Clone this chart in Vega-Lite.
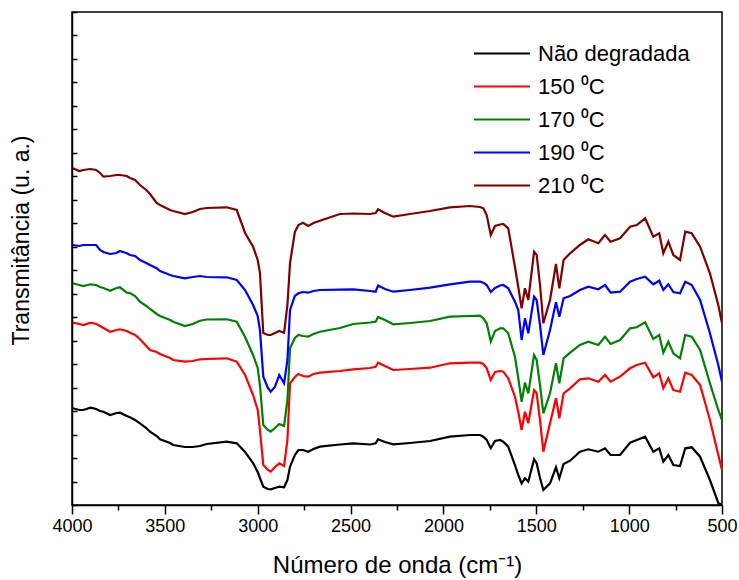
{
  "$schema": "https://vega.github.io/schema/vega-lite/v6.json",
  "width": 650,
  "height": 493,
  "autosize": {"type": "none"},
  "padding": {"left": 72, "top": 12, "right": 17, "bottom": 75},
  "background": "white",
  "config": {
    "view": {"stroke": "black", "strokeWidth": 1.5},
    "font": "Liberation Sans",
    "axis": {"grid": false, "domainColor": "black", "domainWidth": 1.5, "tickColor": "black", "tickWidth": 1.5, "labelColor": "black", "titleColor": "black", "titleFontWeight": "normal", "labelFont": "Liberation Sans", "titleFont": "Liberation Sans"}
  },
  "data": {"values": [
    {"x":3996,"Não degradada":96.7,"150 ⁰C":182.3,"170 ⁰C":221.7,"190 ⁰C":260,"210 ⁰C":336.7},
    {"x":3960,"Não degradada":95,"150 ⁰C":181,"170 ⁰C":220,"190 ⁰C":259,"210 ⁰C":334},
    {"x":3939,"Não degradada":95,"150 ⁰C":180,"170 ⁰C":219,"190 ⁰C":260,"210 ⁰C":335},
    {"x":3900,"Não degradada":97.3,"150 ⁰C":182.3,"170 ⁰C":220.7,"190 ⁰C":260,"210 ⁰C":336},
    {"x":3870,"Não degradada":96,"150 ⁰C":181,"170 ⁰C":220,"190 ⁰C":260,"210 ⁰C":335},
    {"x":3849,"Não degradada":94,"150 ⁰C":179,"170 ⁰C":218,"190 ⁰C":255,"210 ⁰C":332},
    {"x":3831,"Não degradada":93.3,"150 ⁰C":177,"170 ⁰C":217,"190 ⁰C":253,"210 ⁰C":328.3},
    {"x":3795,"Não degradada":90,"150 ⁰C":173.3,"170 ⁰C":214.3,"190 ⁰C":251,"210 ⁰C":329},
    {"x":3760,"Não degradada":92,"150 ⁰C":175,"170 ⁰C":217,"190 ⁰C":252,"210 ⁰C":330},
    {"x":3742,"Não degradada":92.3,"150 ⁰C":175.7,"170 ⁰C":217.7,"190 ⁰C":254,"210 ⁰C":330},
    {"x":3705,"Não degradada":89,"150 ⁰C":174,"170 ⁰C":212.3,"190 ⁰C":251.7,"210 ⁰C":329},
    {"x":3688,"Não degradada":87.7,"150 ⁰C":172.3,"170 ⁰C":212,"190 ⁰C":250,"210 ⁰C":327},
    {"x":3660,"Não degradada":85,"150 ⁰C":170,"170 ⁰C":209,"190 ⁰C":249,"210 ⁰C":325},
    {"x":3634,"Não degradada":81.7,"150 ⁰C":165.7,"170 ⁰C":203.3,"190 ⁰C":245,"210 ⁰C":320},
    {"x":3600,"Não degradada":77,"150 ⁰C":159,"170 ⁰C":199,"190 ⁰C":242,"210 ⁰C":315},
    {"x":3580,"Não degradada":73.3,"150 ⁰C":155,"170 ⁰C":196,"190 ⁰C":240,"210 ⁰C":311},
    {"x":3544,"Não degradada":69,"150 ⁰C":153,"170 ⁰C":191,"190 ⁰C":236.7,"210 ⁰C":302},
    {"x":3526,"Não degradada":65.7,"150 ⁰C":151,"170 ⁰C":189,"190 ⁰C":234,"210 ⁰C":300},
    {"x":3472,"Não degradada":62,"150 ⁰C":147,"170 ⁰C":185,"190 ⁰C":230,"210 ⁰C":295},
    {"x":3455,"Não degradada":60,"150 ⁰C":145,"170 ⁰C":183.3,"190 ⁰C":229,"210 ⁰C":294},
    {"x":3392,"Não degradada":58,"150 ⁰C":143.3,"170 ⁰C":179,"190 ⁰C":226.7,"210 ⁰C":291},
    {"x":3350,"Não degradada":58,"150 ⁰C":144,"170 ⁰C":181,"190 ⁰C":228,"210 ⁰C":293},
    {"x":3311,"Não degradada":59,"150 ⁰C":145.7,"170 ⁰C":184.3,"190 ⁰C":229,"210 ⁰C":296},
    {"x":3275,"Não degradada":61,"150 ⁰C":146,"170 ⁰C":185.5,"190 ⁰C":228,"210 ⁰C":297},
    {"x":3167,"Não degradada":63.3,"150 ⁰C":146.7,"170 ⁰C":185.7,"190 ⁰C":227.7,"210 ⁰C":297.7},
    {"x":3113,"Não degradada":61.7,"150 ⁰C":143.3,"170 ⁰C":183.3,"190 ⁰C":225,"210 ⁰C":295},
    {"x":3068,"Não degradada":53,"150 ⁰C":130,"170 ⁰C":168,"190 ⁰C":215,"210 ⁰C":272},
    {"x":3025,"Não degradada":42,"150 ⁰C":110,"170 ⁰C":150,"190 ⁰C":200,"210 ⁰C":258.3},
    {"x":3000,"Não degradada":33,"150 ⁰C":95,"170 ⁰C":137,"190 ⁰C":189,"210 ⁰C":245},
    {"x":2988,"Não degradada":27,"150 ⁰C":75,"170 ⁰C":120,"190 ⁰C":175,"210 ⁰C":232},
    {"x":2970,"Não degradada":18.3,"150 ⁰C":40,"170 ⁰C":80,"190 ⁰C":128.3,"210 ⁰C":172},
    {"x":2945,"Não degradada":16,"150 ⁰C":35,"170 ⁰C":75,"190 ⁰C":117,"210 ⁰C":170},
    {"x":2930,"Não degradada":15.7,"150 ⁰C":33.3,"170 ⁰C":73.3,"190 ⁰C":113.3,"210 ⁰C":170},
    {"x":2907,"Não degradada":17,"150 ⁰C":38,"170 ⁰C":77,"190 ⁰C":118.3,"210 ⁰C":172},
    {"x":2884,"Não degradada":18.3,"150 ⁰C":41.7,"170 ⁰C":81,"190 ⁰C":130,"210 ⁰C":174},
    {"x":2858,"Não degradada":17.7,"150 ⁰C":39,"170 ⁰C":79,"190 ⁰C":121.7,"210 ⁰C":172.3},
    {"x":2840,"Não degradada":25,"150 ⁰C":65,"170 ⁰C":105,"190 ⁰C":145,"210 ⁰C":200},
    {"x":2826,"Não degradada":38.3,"150 ⁰C":121.7,"170 ⁰C":156.7,"190 ⁰C":195,"210 ⁰C":242},
    {"x":2800,"Não degradada":50,"150 ⁰C":128,"170 ⁰C":167,"190 ⁰C":209,"210 ⁰C":273},
    {"x":2781,"Não degradada":55,"150 ⁰C":131,"170 ⁰C":170,"190 ⁰C":211.7,"210 ⁰C":280},
    {"x":2756,"Não degradada":55,"150 ⁰C":129,"170 ⁰C":169,"190 ⁰C":213,"210 ⁰C":282.3},
    {"x":2728,"Não degradada":53.3,"150 ⁰C":128.3,"170 ⁰C":168.3,"190 ⁰C":212.3,"210 ⁰C":279},
    {"x":2700,"Não degradada":56,"150 ⁰C":131,"170 ⁰C":171,"190 ⁰C":214,"210 ⁰C":282},
    {"x":2665,"Não degradada":58.3,"150 ⁰C":132.3,"170 ⁰C":173.3,"190 ⁰C":215,"210 ⁰C":284.3},
    {"x":2557,"Não degradada":60.5,"150 ⁰C":134,"170 ⁰C":177,"190 ⁰C":215.3,"210 ⁰C":291},
    {"x":2485,"Não degradada":61.7,"150 ⁰C":135.7,"170 ⁰C":181,"190 ⁰C":215.7,"210 ⁰C":291.5},
    {"x":2395,"Não degradada":60.5,"150 ⁰C":137,"170 ⁰C":182.5,"190 ⁰C":214,"210 ⁰C":291},
    {"x":2365,"Não degradada":61.7,"150 ⁰C":138.3,"170 ⁰C":183.3,"190 ⁰C":213.3,"210 ⁰C":292},
    {"x":2352,"Não degradada":65.7,"150 ⁰C":142.3,"170 ⁰C":188,"190 ⁰C":219.5,"210 ⁰C":295.7},
    {"x":2315,"Não degradada":63,"150 ⁰C":139,"170 ⁰C":185,"190 ⁰C":216,"210 ⁰C":292},
    {"x":2270,"Não degradada":60.7,"150 ⁰C":135,"170 ⁰C":180.7,"190 ⁰C":213.3,"210 ⁰C":288.3},
    {"x":2180,"Não degradada":62,"150 ⁰C":136,"170 ⁰C":182,"190 ⁰C":215,"210 ⁰C":291},
    {"x":2072,"Não degradada":64,"150 ⁰C":137.3,"170 ⁰C":184,"190 ⁰C":217.3,"210 ⁰C":294},
    {"x":1965,"Não degradada":68.3,"150 ⁰C":141.7,"170 ⁰C":188.3,"190 ⁰C":220.7,"210 ⁰C":297.7},
    {"x":1857,"Não degradada":70,"150 ⁰C":142.3,"170 ⁰C":189,"190 ⁰C":223.3,"210 ⁰C":299},
    {"x":1803,"Não degradada":70,"150 ⁰C":142.3,"170 ⁰C":189.3,"190 ⁰C":223.3,"210 ⁰C":298},
    {"x":1785,"Não degradada":68.3,"150 ⁰C":141,"170 ⁰C":186.7,"190 ⁰C":222.3,"210 ⁰C":296.7},
    {"x":1767,"Não degradada":65,"150 ⁰C":136.7,"170 ⁰C":181.7,"190 ⁰C":220,"210 ⁰C":290},
    {"x":1745,"Não degradada":56.7,"150 ⁰C":125,"170 ⁰C":163.5,"190 ⁰C":213,"210 ⁰C":270},
    {"x":1722,"Não degradada":64,"150 ⁰C":133,"170 ⁰C":174,"190 ⁰C":217,"210 ⁰C":279},
    {"x":1695,"Não degradada":65,"150 ⁰C":134,"170 ⁰C":176.7,"190 ⁰C":219.5,"210 ⁰C":280.5},
    {"x":1678,"Não degradada":63.3,"150 ⁰C":133.3,"170 ⁰C":176.7,"190 ⁰C":220,"210 ⁰C":281},
    {"x":1651,"Não degradada":58.3,"150 ⁰C":126.7,"170 ⁰C":171.7,"190 ⁰C":216.7,"210 ⁰C":276.7},
    {"x":1615,"Não degradada":40,"150 ⁰C":108.3,"170 ⁰C":148.3,"190 ⁰C":203.3,"210 ⁰C":238.3},
    {"x":1597,"Não degradada":30,"150 ⁰C":93,"170 ⁰C":127,"190 ⁰C":195,"210 ⁰C":218},
    {"x":1579,"Não degradada":21.7,"150 ⁰C":75,"170 ⁰C":103.3,"190 ⁰C":165,"210 ⁰C":196.7},
    {"x":1561,"Não degradada":26.7,"150 ⁰C":93.3,"170 ⁰C":122.3,"190 ⁰C":186.7,"210 ⁰C":216.7},
    {"x":1543,"Não degradada":23.3,"150 ⁰C":81.7,"170 ⁰C":111.7,"190 ⁰C":171.7,"210 ⁰C":205},
    {"x":1512,"Não degradada":45.7,"150 ⁰C":115,"170 ⁰C":150,"190 ⁰C":208.3,"210 ⁰C":253.3},
    {"x":1498,"Não degradada":41.7,"150 ⁰C":111.7,"170 ⁰C":145,"190 ⁰C":205,"210 ⁰C":250},
    {"x":1480,"Não degradada":27,"150 ⁰C":85,"170 ⁰C":120,"190 ⁰C":180,"210 ⁰C":220},
    {"x":1462,"Não degradada":15,"150 ⁰C":53.3,"170 ⁰C":91.7,"190 ⁰C":150,"210 ⁰C":181.7},
    {"x":1426,"Não degradada":21.7,"150 ⁰C":81.7,"170 ⁰C":111.7,"190 ⁰C":175,"210 ⁰C":205},
    {"x":1394,"Não degradada":37.7,"150 ⁰C":106.7,"170 ⁰C":141.7,"190 ⁰C":202.7,"210 ⁰C":241},
    {"x":1376,"Não degradada":26.7,"150 ⁰C":86.7,"170 ⁰C":121.7,"190 ⁰C":188.3,"210 ⁰C":216.7},
    {"x":1353,"Não degradada":41,"150 ⁰C":111.7,"170 ⁰C":146.7,"190 ⁰C":206.7,"210 ⁰C":245},
    {"x":1318,"Não degradada":44.3,"150 ⁰C":116.7,"170 ⁰C":152.3,"190 ⁰C":209,"210 ⁰C":251.7},
    {"x":1265,"Não degradada":53.3,"150 ⁰C":125.7,"170 ⁰C":160,"190 ⁰C":215,"210 ⁰C":260},
    {"x":1220,"Não degradada":55.7,"150 ⁰C":126.7,"170 ⁰C":163.3,"190 ⁰C":218.3,"210 ⁰C":265.7},
    {"x":1166,"Não degradada":53.3,"150 ⁰C":123.3,"170 ⁰C":160,"190 ⁰C":215.7,"210 ⁰C":261.7},
    {"x":1130,"Não degradada":56.7,"150 ⁰C":130,"170 ⁰C":168.3,"190 ⁰C":220,"210 ⁰C":270},
    {"x":1100,"Não degradada":50,"150 ⁰C":123.3,"170 ⁰C":161,"190 ⁰C":212.5,"210 ⁰C":263.3},
    {"x":1049,"Não degradada":50,"150 ⁰C":128.3,"170 ⁰C":165,"190 ⁰C":213.3,"210 ⁰C":266.7},
    {"x":995,"Não degradada":62.3,"150 ⁰C":136.7,"170 ⁰C":176.7,"190 ⁰C":223.3,"210 ⁰C":278.3},
    {"x":959,"Não degradada":65,"150 ⁰C":140,"170 ⁰C":177.7,"190 ⁰C":226,"210 ⁰C":280},
    {"x":914,"Não degradada":68.3,"150 ⁰C":142.3,"170 ⁰C":182.7,"190 ⁰C":228.3,"210 ⁰C":286.7},
    {"x":870,"Não degradada":53.3,"150 ⁰C":127.7,"170 ⁰C":166,"190 ⁰C":220.7,"210 ⁰C":268.3},
    {"x":838,"Não degradada":56.7,"150 ⁰C":131.7,"170 ⁰C":170,"190 ⁰C":224.3,"210 ⁰C":271.7},
    {"x":816,"Não degradada":43.3,"150 ⁰C":116.7,"170 ⁰C":152.3,"190 ⁰C":215,"210 ⁰C":251.7},
    {"x":789,"Não degradada":50,"150 ⁰C":126.7,"170 ⁰C":163.3,"190 ⁰C":220.7,"210 ⁰C":263.3},
    {"x":762,"Não degradada":40,"150 ⁰C":115,"170 ⁰C":151.7,"190 ⁰C":213,"210 ⁰C":250},
    {"x":726,"Não degradada":39,"150 ⁰C":113.3,"170 ⁰C":146.7,"190 ⁰C":211.7,"210 ⁰C":245},
    {"x":698,"Não degradada":56.7,"150 ⁰C":132.3,"170 ⁰C":170,"190 ⁰C":223.3,"210 ⁰C":273.3},
    {"x":663,"Não degradada":57.7,"150 ⁰C":130,"170 ⁰C":168.3,"190 ⁰C":220,"210 ⁰C":271.7},
    {"x":618,"Não degradada":48.3,"150 ⁰C":120,"170 ⁰C":155,"190 ⁰C":205,"210 ⁰C":258.3},
    {"x":565,"Não degradada":25,"150 ⁰C":85,"170 ⁰C":121.7,"190 ⁰C":171.7,"210 ⁰C":231.7},
    {"x":520,"Não degradada":2,"150 ⁰C":50,"170 ⁰C":95,"190 ⁰C":140,"210 ⁰C":200},
    {"x":500,"Não degradada":0,"150 ⁰C":35,"170 ⁰C":85,"190 ⁰C":123.3,"210 ⁰C":181.7}
  ]},
  "transform": [
    {"fold": ["Não degradada", "150 ⁰C", "170 ⁰C", "190 ⁰C", "210 ⁰C"], "as": ["serie", "t"]}
  ],
  "mark": {"type": "line", "strokeWidth": 2.2, "clip": true},
  "encoding": {
    "x": {
      "field": "x", "type": "quantitative",
      "scale": {"domain": [500, 4000], "reverse": true, "nice": false, "zero": false},
      "axis": {
        "values": [4000, 3750, 3500, 3250, 3000, 2750, 2500, 2250, 2000, 1750, 1500, 1250, 1000, 750, 500],
        "format": "d",
        "labelExpr": "datum.value % 500 === 0 ? datum.label : ''",
        "tickSize": {"condition": {"test": "datum.value % 500 === 0", "value": 9}, "value": 5},
        "labelFontSize": 18, "labelPadding": 3, "labelFlush": false, "labelOverlap": false,
        "title": "Número de onda (cm⁻¹)", "titleFontSize": 24, "titlePadding": 18
      }
    },
    "y": {
      "field": "t", "type": "quantitative",
      "scale": {"domain": [0, 493], "nice": false, "zero": false},
      "axis": {
        "values": [0, 23.48, 46.95, 70.43, 93.9, 117.38, 140.86, 164.33, 187.81, 211.29, 234.76, 258.24, 281.71, 305.19, 328.67, 352.14, 375.62, 399.1, 422.57, 446.05, 469.52, 493],
        "labels": false, "tickSize": -5,
        "title": "Transmitância (u. a.)", "titleFontSize": 23,
        "titleX": -51, "titleY": 228, "titleBaseline": "middle", "titleAngle": -90
      }
    },
    "color": {
      "field": "serie", "type": "nominal",
      "scale": {"domain": ["Não degradada", "150 ⁰C", "170 ⁰C", "190 ⁰C", "210 ⁰C"], "range": ["#000000", "#ff0000", "#008000", "#0000ff", "#800000"]},
      "legend": {
        "orient": "none", "legendX": 401, "legendY": 25, "title": null,
        "symbolType": "stroke", "symbolSize": 3136, "symbolStrokeWidth": 2,
        "labelFontSize": 22, "labelFont": "Liberation Sans", "labelColor": "black",
        "rowPadding": 0, "clipHeight": 33, "labelOffset": 7, "padding": 0
      }
    }
  }
}
